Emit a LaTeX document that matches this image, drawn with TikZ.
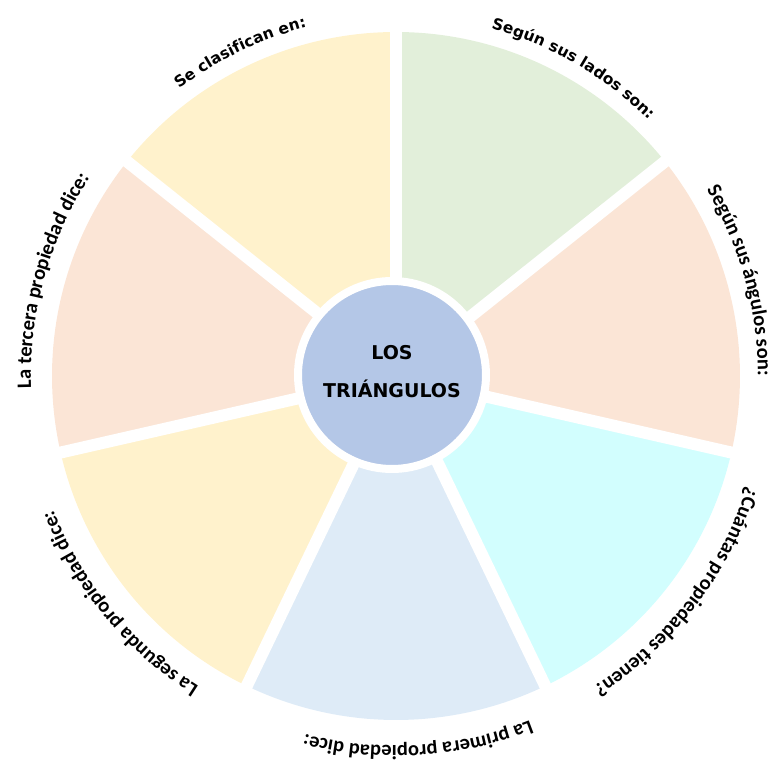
\documentclass[tikz,border=0pt]{standalone}
\usepackage{fontspec}
\setmainfont{DejaVu Sans}
\newfontfamily\calfont{Carlito}
\usetikzlibrary{decorations.text}

\definecolor{sgreen}{HTML}{E2EFDA}
\definecolor{ssalmon}{HTML}{FBE5D6}
\definecolor{scyan}{HTML}{D2FEFE}
\definecolor{sblue}{HTML}{DEEBF7}
\definecolor{syellow}{HTML}{FFF2CC}
\definecolor{hubblue}{HTML}{B4C7E7}

% label fonts
\newcommand\labwide{\fontsize{15.5}{18}\selectfont\bfseries}
\newcommand\labnarrow{\calfont\fontsize{20.5}{22}\selectfont\bfseries}

\tikzset{
  gapline/.style={white, line width=12},
  hub/.style={circle, fill=hubblue, draw=white, line width=8, minimum size=188},
  hubtext/.style={align=center, font=\bfseries\fontsize{19}{38}\selectfont},
  arclabel/.style={decorate, decoration={text along path, text align=center, text={#1}}}
}

% \rimlabel{centre angle}{radius}{text}: text running clockwise round the rim
\newcommand\rimlabel[3]{%
  \path[arclabel={#3}] ({#1+26}:#2) arc[start angle={#1+26}, end angle={#1-26}, radius=#2];}

\begin{document}
\begin{tikzpicture}[x=1pt,y=1pt]
\useasboundingbox (-396,-385) rectangle (373,376);
\def\R{344}

% the seven sectors, clockwise from the top
\foreach \a/\c in {90/sgreen, 38.5714/ssalmon, -12.8571/scyan, -64.2857/sblue,
                   -115.7143/syellow, -167.1429/ssalmon, -218.5714/syellow}
  \fill[\c] (0,0) -- (\a:\R) arc[start angle=\a, end angle=\a-51.4286, radius=\R] -- cycle;

% white gaps between the sectors
\foreach \a in {90, 38.5714, -12.8571, -64.2857, -115.7143, -167.1429, -218.5714}
  \draw[gapline] (0,0) -- (\a:{\R+20});

% centre
\node[hub] (hubnode) at (-4,1) {};
\node[hubtext, yshift=3] (hubtitle) at (hubnode.center) {LOS\\TRIÁNGULOS};

% labels
\rimlabel{115.7}{360}{|\labwide|Se clasifican en:}
\rimlabel{60}{360}{|\labwide|Según sus lados son:}
\rimlabel{15.5}{362}{|\labnarrow|Según sus ángulos son:}
\rimlabel{-37.5}{368}{|\labnarrow|¿Cuántas propiedades tienen?}
\rimlabel{-86.5}{370}{|\labnarrow|La primera propiedad dice:}
\rimlabel{-140.5}{368}{|\labnarrow|La segunda propiedad dice:}
\rimlabel{164.5}{365}{|\labnarrow|La tercera propiedad dice:}
\end{tikzpicture}
\end{document}
